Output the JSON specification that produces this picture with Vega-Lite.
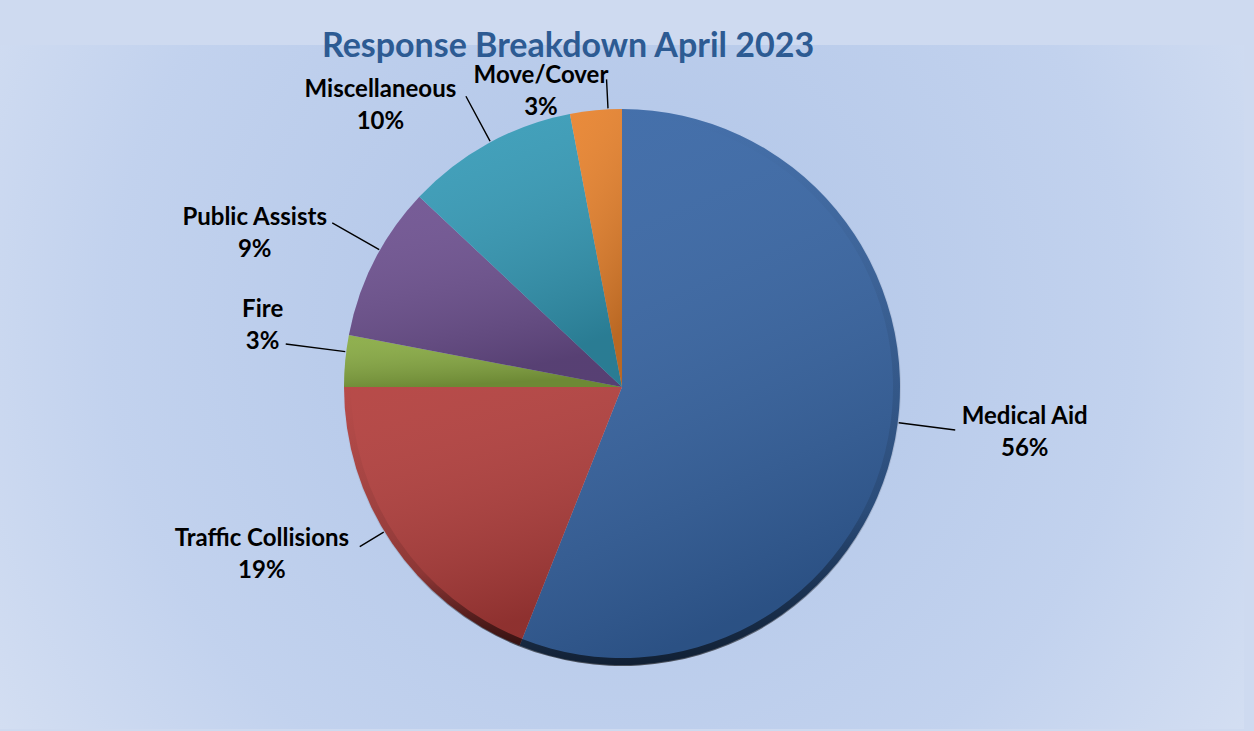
{
  "$schema": "https://vega.github.io/schema/vega-lite/v6.json",
  "width": 1254,
  "height": 731,
  "autosize": {"type": "fit", "contains": "padding"},
  "padding": {"left": 0, "top": 30, "right": 10, "bottom": 2},
  "background": "#cedaf0",
  "title": {
    "text": "Response Breakdown April 2023",
    "font": "Lato",
    "fontSize": 34,
    "fontWeight": "bold",
    "color": "#2d5b93",
    "anchor": "middle",
    "dx": -54,
    "offset": -19
  },
  "view": {
    "fill": {
      "gradient": "radial",
      "x1": 0.5, "y1": 0.45, "r1": 0,
      "x2": 0.5, "y2": 0.45, "r2": 0.75,
      "stops": [
        {"offset": 0, "color": "#afc4e7"},
        {"offset": 0.55, "color": "#c2d2ee"},
        {"offset": 1, "color": "#e1e8f5"}
      ]
    },
    "stroke": null
  },
  "data": {
    "values": [
      {"category": "Medical Aid", "pct": 56, "share": 0.56, "order": 1},
      {"category": "Traffic Collisions", "pct": 19, "share": 0.19, "order": 2},
      {"category": "Fire", "pct": 3, "share": 0.03, "order": 3},
      {"category": "Public Assists", "pct": 9, "share": 0.09, "order": 4},
      {"category": "Miscellaneous", "pct": 10, "share": 0.10, "order": 5},
      {"category": "Move/Cover", "pct": 3, "share": 0.03, "order": 6}
    ]
  },
  "encoding": {
    "theta": {"field": "pct", "type": "quantitative", "stack": true},
    "order": {"field": "order", "type": "quantitative"}
  },
  "resolve": {"scale": {"theta": "independent"}},
  "layer": [
    {
      "mark": {"type": "arc", "outerRadius": 278},
      "encoding": {
        "color": {
          "field": "category",
          "type": "nominal",
          "scale": {
            "domain": ["Medical Aid", "Traffic Collisions", "Fire", "Public Assists", "Miscellaneous", "Move/Cover"],
            "range": ["#3665a5", "#b23d3b", "#88ab42", "#6d5090", "#349bb8", "#e8822c"]
          },
          "legend": null
        }
      }
    },
    {
      "mark": {
        "type": "arc",
        "outerRadius": 278,
        "fill": {
          "gradient": "linear",
          "x1": 0, "y1": 0, "x2": 0.3, "y2": 1,
          "stops": [
            {"offset": 0, "color": "rgba(255,255,255,0.07)"},
            {"offset": 1, "color": "rgba(0,0,0,0.2)"}
          ]
        }
      }
    },
    {
      "mark": {
        "type": "arc",
        "innerRadius": 271,
        "outerRadius": 279,
        "opacity": {"expr": "datum.order <= 2 ? 1 : 0"},
        "fill": {
          "gradient": "linear",
          "x1": 0, "y1": 0, "x2": 0, "y2": 1,
          "stops": [
            {"offset": 0, "color": "rgba(0,0,0,0)"},
            {"offset": 0.72, "color": "rgba(0,0,0,0.12)"},
            {"offset": 1, "color": "rgba(0,0,0,0.62)"}
          ]
        }
      }
    },
    {
      "mark": {
        "type": "arc",
        "filled": false,
        "stroke": "#000000",
        "strokeWidth": 1.4,
        "padAngle": 3.1416,
        "innerRadius": 279,
        "opacity": {"expr": "datum.order === 1 ? 0 : 1"},
        "outerRadius": {"expr": "datum.category === 'Move/Cover' ? 308 : datum.category === 'Miscellaneous' ? 330 : datum.category === 'Fire' ? 339 : datum.category === 'Traffic Collisions' ? 307 : 333"},
        "thetaOffset": {"expr": "datum.category === 'Move/Cover' ? 0.044 : datum.category === 'Miscellaneous' ? 0.01 : datum.category === 'Fire' ? 0.033 : datum.category === 'Traffic Collisions' ? 0.05 : 0.044"}
      }
    },
    {
      "mark": {
        "type": "arc",
        "filled": false,
        "stroke": "#000000",
        "strokeWidth": 1.4,
        "padAngle": 3.1416,
        "innerRadius": 279,
        "outerRadius": 336,
        "opacity": {"expr": "datum.order === 1 ? 1 : 0"},
        "thetaOffset": {"expr": "datum.pct * PI / 200 - 0.06"}
      },
      "encoding": {
        "theta": {"field": "pct", "type": "quantitative", "stack": true, "scale": {"domain": [0, 200]}}
      }
    },
    {
      "mark": {
        "type": "text",
        "font": "Lato",
        "fontSize": 24,
        "fontWeight": "bold",
        "color": "#000000",
        "lineHeight": 32,
        "baseline": "middle",
        "dy": -13,
        "radius": {"expr": "datum.category === 'Move/Cover' ? 309 : datum.category === 'Miscellaneous' ? 373 : datum.category === 'Fire' ? 365 : datum.category === 'Traffic Collisions' ? 396 : datum.category === 'Public Assists' ? 399 : 405"},
        "thetaOffset": {"expr": "datum.category === 'Move/Cover' ? -0.171 : datum.category === 'Miscellaneous' ? -0.202 : datum.category === 'Fire' ? 0.082 : datum.category === 'Traffic Collisions' ? 0.168 : datum.category === 'Public Assists' ? -0.07 : -0.082"},
        "text": {"expr": "[datum.category, format(datum.share, '.0%')]"}
      }
    }
  ]
}
